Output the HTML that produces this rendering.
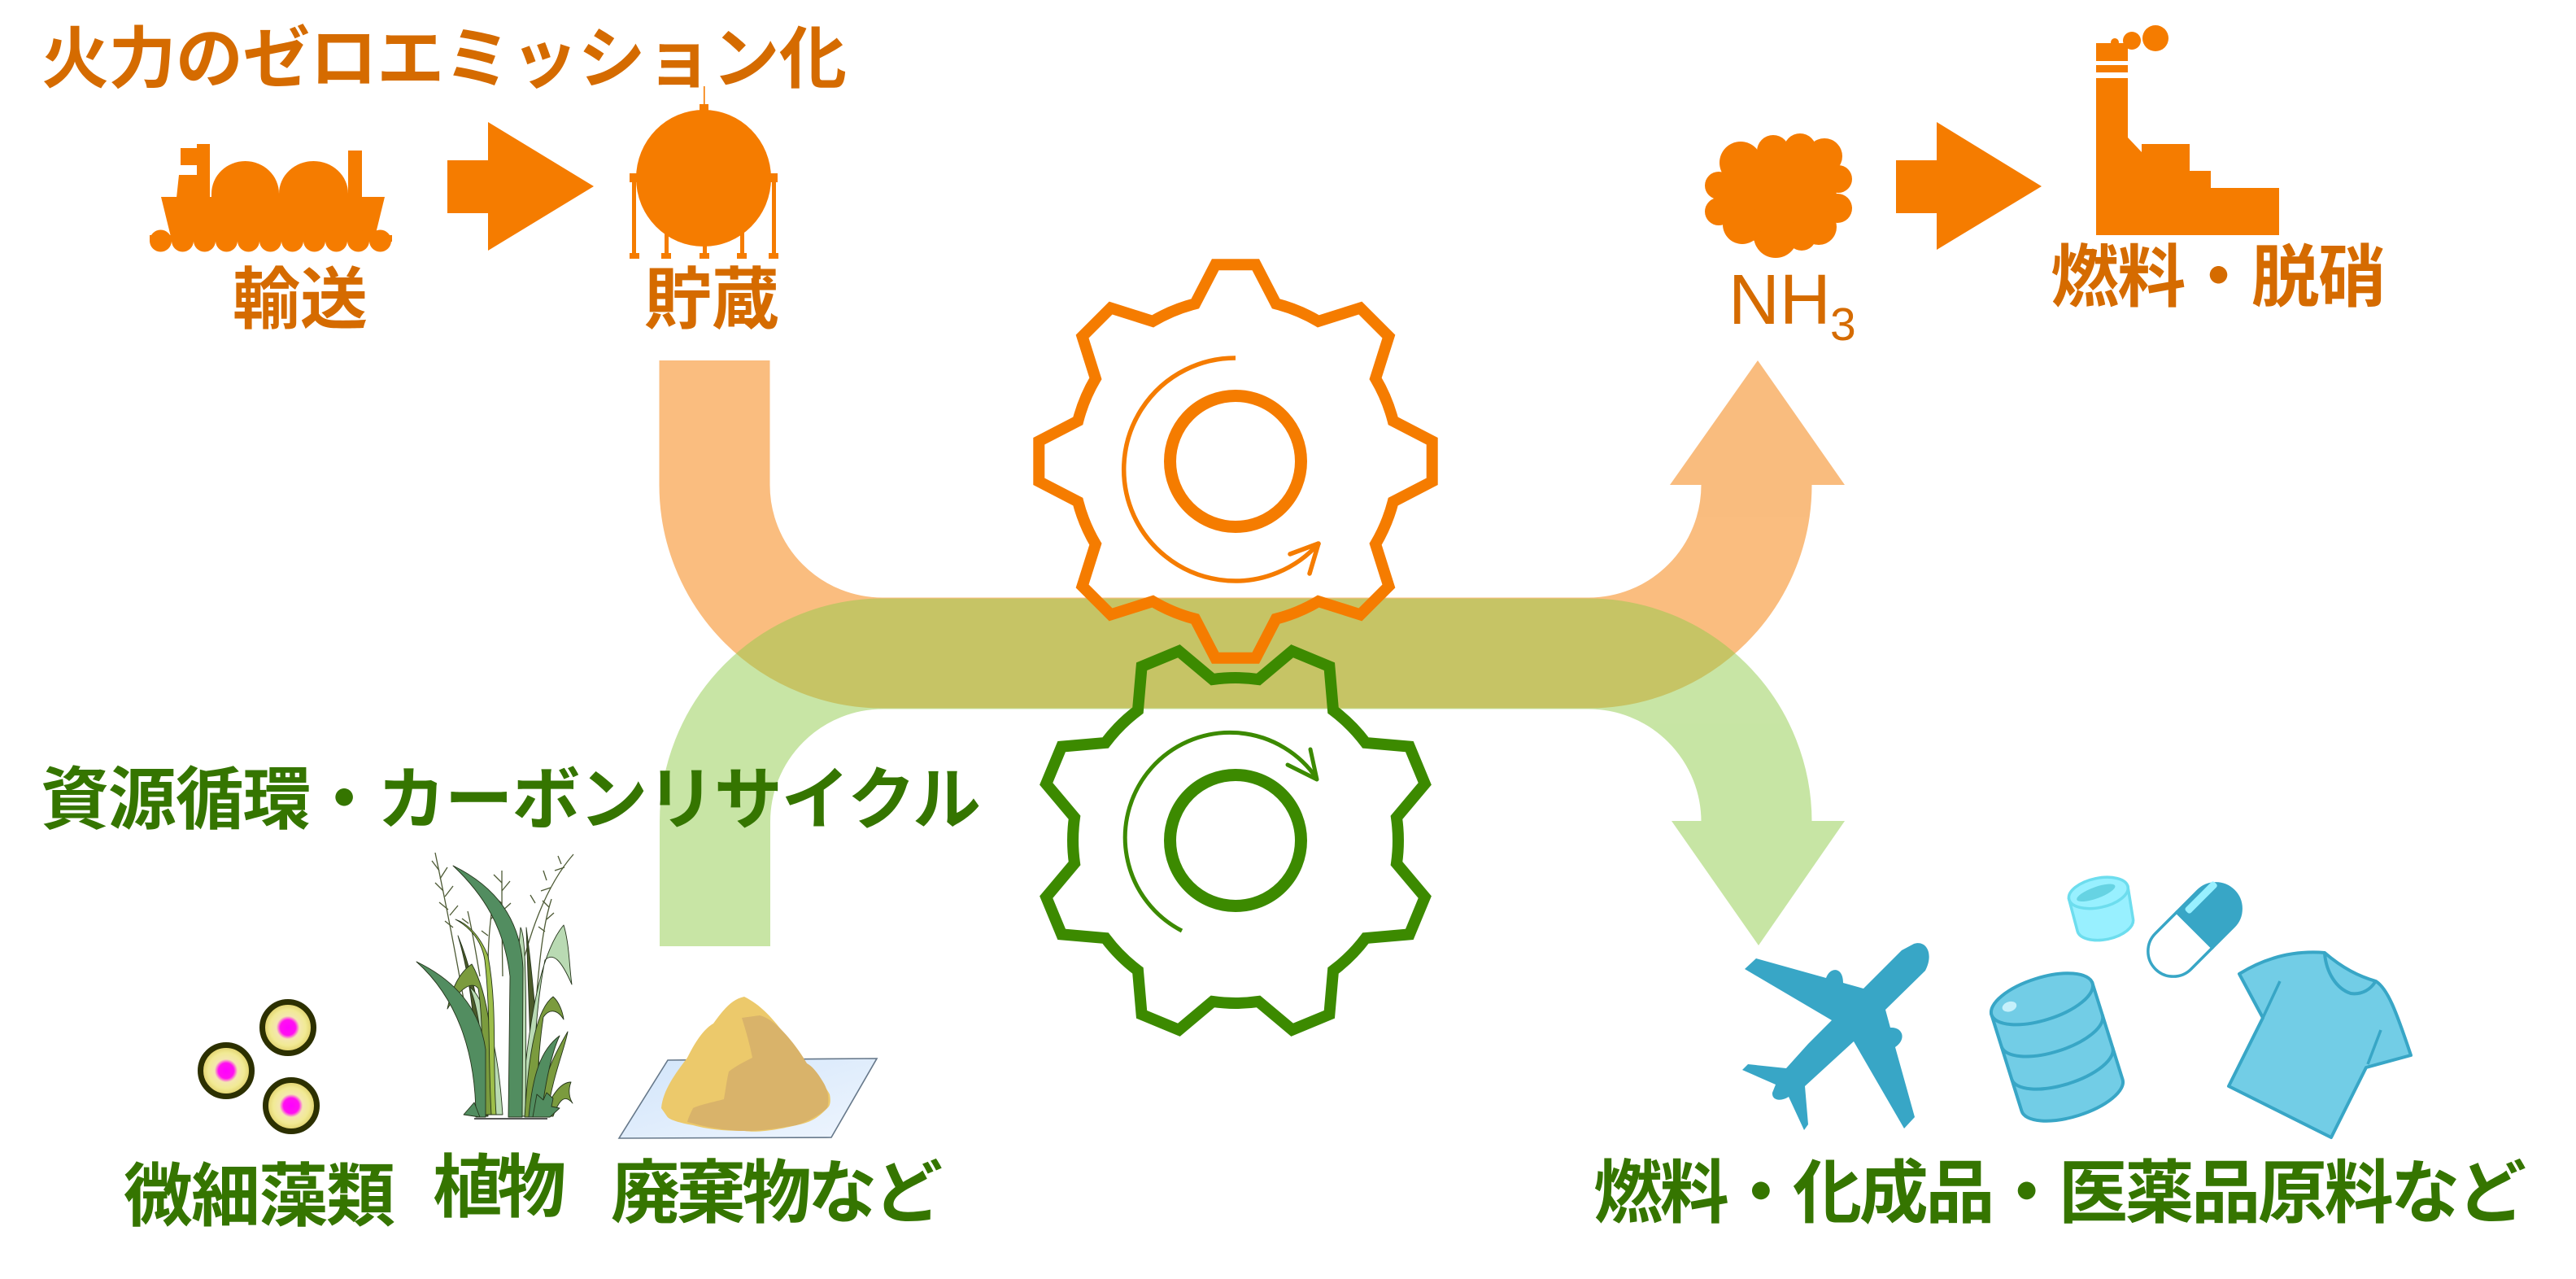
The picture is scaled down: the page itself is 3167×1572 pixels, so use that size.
<!DOCTYPE html>
<html><head><meta charset="utf-8">
<style>
html,body{margin:0;padding:0;background:#fff;}
svg{display:block;}
text{font-family:"Liberation Sans","Noto Sans CJK JP",sans-serif;font-weight:700;}
</style></head>
<body>
<svg width="3167" height="1572" viewBox="0 0 3167 1572" xmlns="http://www.w3.org/2000/svg">
<defs>
  <radialGradient id="alg" cx="50%" cy="50%" r="50%">
    <stop offset="0" stop-color="#ff00ff"/>
    <stop offset="0.3" stop-color="#ff10f0"/>
    <stop offset="0.45" stop-color="#f4e6b0"/>
    <stop offset="0.7" stop-color="#f1ea94"/>
    <stop offset="1" stop-color="#dccb62"/>
  </radialGradient>
  <linearGradient id="sheet" x1="0" y1="0" x2="1" y2="1">
    <stop offset="0" stop-color="#d2e5fa"/>
    <stop offset="1" stop-color="#eef5fe"/>
  </linearGradient>
  <path id="gear" d="M -49.7 -193.7 L -24.8 -241.7 L 24.8 -241.7 L 49.7 -193.7 A 200 200 0 0 1 101.8 -172.1 L 153.4 -188.4 L 188.4 -153.4 L 172.1 -101.8 A 200 200 0 0 1 193.7 -49.7 L 241.7 -24.8 L 241.7 24.8 L 193.7 49.7 A 200 200 0 0 1 172.1 101.8 L 188.4 153.4 L 153.4 188.4 L 101.8 172.1 A 200 200 0 0 1 49.7 193.7 L 24.8 241.7 L -24.8 241.7 L -49.7 193.7 A 200 200 0 0 1 -101.8 172.1 L -153.4 188.4 L -188.4 153.4 L -172.1 101.8 A 200 200 0 0 1 -193.7 49.7 L -241.7 24.8 L -241.7 -24.8 L -193.7 -49.7 A 200 200 0 0 1 -172.1 -101.8 L -188.4 -153.4 L -153.4 -188.4 L -101.8 -172.1 A 200 200 0 0 1 -49.7 -193.7 Z"/>
</defs>
<rect width="3167" height="1572" fill="#fff"/>

<!-- Orange band -->
<g opacity="0.5">
  <path d="M 878.5 443 V 596 A 206.5 206.5 0 0 0 1085 802.5 H 1953 A 206.5 206.5 0 0 0 2159.5 596" fill="none" stroke="#F57C00" stroke-width="136"/>
  <polygon points="2053,596 2161,443 2268,596" fill="#F57C00"/>
</g>
<!-- Green band -->
<g opacity="0.5">
  <path d="M 879 1163 V 1010 A 206.5 206.5 0 0 1 1085.5 803.5 H 1953 A 206.5 206.5 0 0 1 2159.5 1010" fill="none" stroke="#91CC4B" stroke-width="136"/>
  <polygon points="2055,1009 2162,1162 2268,1009" fill="#91CC4B"/>
</g>

<!-- Gears -->
<g transform="translate(1519 567)" fill="none" stroke="#F57C00">
  <use href="#gear" stroke-width="14" stroke-linejoin="miter"/>
  <circle cx="0" cy="0" r="80.5" stroke-width="15"/>
</g>
<path d="M 1519 440 A 137 137 0 1 0 1622 667" fill="none" stroke="#F57C00" stroke-width="5.5"/>
<path d="M 1586 681 L 1621 668 L 1610 705" fill="none" stroke="#F57C00" stroke-width="5.5" stroke-linecap="round" stroke-linejoin="round"/>

<g transform="translate(1519 1033) rotate(22.5)" fill="none" stroke="#3C8A00">
  <use href="#gear" stroke-width="14"/>
</g>
<circle cx="1519" cy="1033" r="80.5" fill="none" stroke="#3C8A00" stroke-width="15"/>
<path d="M 1453 1144 A 129 129 0 1 1 1619 957" fill="none" stroke="#3C8A00" stroke-width="5"/>
<path d="M 1583 940 L 1619 958 L 1611 921" fill="none" stroke="#3C8A00" stroke-width="5" stroke-linecap="round" stroke-linejoin="round"/>

<!-- Orange texts -->
<g fill="#D56B00">
  <text x="51" y="101" font-size="83" textLength="990">火力のゼロエミッション化</text>
  <text x="286" y="397" font-size="83" textLength="166">輸送</text>
  <text x="792" y="397" font-size="83" textLength="166">貯蔵</text>
  <text x="2521" y="370" font-size="84" textLength="413">燃料・脱硝</text>
  <text x="2125" y="398" font-size="87" style="font-weight:400">NH</text>
  <text x="2250" y="418" font-size="57" style="font-weight:400">3</text>
</g>

<!-- Ship -->
<g fill="#F57C00">
  <polygon points="198,242 473,242 461,291 210,291"/>
  <rect x="184" y="289" width="298" height="8"/>
  <g>
    <circle cx="197.5" cy="296" r="13.5"/><circle cx="224.5" cy="296" r="13.5"/><circle cx="251.5" cy="296" r="13.5"/>
    <circle cx="278.5" cy="296" r="13.5"/><circle cx="305.5" cy="296" r="13.5"/><circle cx="332.5" cy="296" r="13.5"/>
    <circle cx="359.5" cy="296" r="13.5"/><circle cx="386.5" cy="296" r="13.5"/><circle cx="413.5" cy="296" r="13.5"/>
    <circle cx="440.5" cy="296" r="13.5"/><circle cx="467.5" cy="296" r="13.5"/>
  </g>
  <polygon points="220,215 243,215 243,243 217,243"/>
  <rect x="222" y="182" width="21" height="21"/>
  <rect x="242" y="177" width="16" height="66"/>
  <path d="M 260 243 V 238 A 41.5 40 0 0 1 343 238 V 243 Z"/>
  <path d="M 343 243 V 238 A 42.5 40 0 0 1 428 238 V 243 Z"/>
  <rect x="428" y="185" width="17" height="58"/>
</g>

<!-- Arrow 1 -->
<polygon points="550,197 600,197 600,150 730,229 600,308 600,262 550,262" fill="#F57C00"/>

<!-- Tank -->
<g fill="#F57C00">
  <rect x="865" y="106" width="1.6" height="24"/>
  <rect x="860" y="128" width="11" height="9"/>
  <ellipse cx="865" cy="219" rx="83" ry="84"/>
  <rect x="774" y="213" width="12" height="11"/>
  <rect x="944" y="213" width="12" height="11"/>
  <rect x="777" y="213" width="5" height="100"/>
  <rect x="949" y="213" width="5" height="100"/>
  <rect x="817" y="280" width="5" height="33"/>
  <rect x="910" y="280" width="5" height="33"/>
  <rect x="864" y="298" width="5" height="15"/>
  <rect x="774" y="311" width="12" height="7"/>
  <rect x="813" y="311" width="12" height="7"/>
  <rect x="860" y="311" width="12" height="7"/>
  <rect x="906" y="311" width="12" height="7"/>
  <rect x="945" y="311" width="12" height="7"/>
</g>

<!-- Cloud NH3 -->
<g fill="#F57C00">
  <ellipse cx="2186" cy="243" rx="72" ry="58"/>
  <circle cx="2140" cy="200" r="26"/>
  <circle cx="2180" cy="186" r="20"/>
  <circle cx="2213" cy="184" r="20"/>
  <circle cx="2243" cy="192" r="22"/>
  <circle cx="2260" cy="220" r="17"/>
  <circle cx="2259" cy="256" r="18"/>
  <circle cx="2236" cy="279" r="22"/>
  <circle cx="2183" cy="290" r="27"/>
  <circle cx="2142" cy="276" r="24"/>
  <circle cx="2113" cy="228" r="17"/>
  <circle cx="2113" cy="260" r="17"/>
  <circle cx="2215" cy="290" r="18"/>
</g>

<!-- Arrow 2 -->
<polygon points="2331,197 2381,197 2381,150 2510,229 2381,307 2381,262 2331,262" fill="#F57C00"/>

<!-- Factory -->
<g fill="#F57C00">
  <path d="M2577 53 H2616 V169 L2633 187 V177 H2692 V210 H2718 V231 H2802 V289 H2577 Z"/>
  <circle cx="2650" cy="47" r="16"/>
  <circle cx="2621" cy="50" r="11"/>
  <circle cx="2600" cy="52" r="5"/>
</g>
<rect x="2577" y="75" width="39" height="5" fill="#fff"/>
<rect x="2577" y="89" width="39" height="7" fill="#fff"/>

<!-- Green texts -->
<g fill="#357500">
  <text x="50" y="1012" font-size="84" textLength="1156">資源循環・カーボンリサイクル</text>
  <text x="152" y="1500" font-size="85" textLength="334">微細藻類</text>
  <text x="532" y="1489" font-size="85" textLength="164">植物</text>
  <text x="751" y="1496" font-size="85" textLength="408">廃棄物など</text>
  <text x="1959" y="1496" font-size="85" textLength="1147">燃料・化成品・医薬品原料など</text>
</g>

<!-- Algae -->
<g stroke="#2c3000" stroke-width="7" fill="url(#alg)">
  <circle cx="354" cy="1263" r="31.5"/>
  <circle cx="278" cy="1316" r="31.5"/>
  <circle cx="358" cy="1359" r="31.5"/>
</g>

<!-- Plant -->
<g>
  <g fill="none" stroke="#4d5a35" stroke-width="1.3">
    <path d="M572 1240 C 560 1170, 548 1110, 535 1048"/>
    <path d="M540 1070 l-9 -12 M541 1080 l9 -14 M545 1095 l-10 -10 M547 1102 l10 -13 M551 1118 l-11 -9 M553 1125 l10 -12 M557 1140 l-10 -8"/>
    <path d="M618 1200 C 617 1150, 617 1110, 617 1070"/>
    <path d="M617 1085 l-10 -10 M617 1095 l10 -12 M617 1110 l-11 -8 M617 1120 l11 -10"/>
    <path d="M637 1207 C 650 1150, 670 1090, 705 1050"/>
    <path d="M690 1062 l-4 -10 M682 1070 l12 -4 M672 1082 l-4 -12 M665 1095 l12 -4 M658 1110 l-6 -10"/>
    <path d="M660 1220 C 665 1160, 670 1130, 678 1105"/>
    <path d="M675 1115 l-8 -8 M672 1130 l9 -8 M670 1145 l-8 -6"/>
    <path d="M590 1200 C 585 1170, 580 1140, 575 1120 M600 1190 C 600 1160, 602 1140, 605 1115"/>
    <path d="M576 1135 l-8 -6 M603 1130 l8 -8 M600 1150 l-8 -6"/>
  </g>
  <g stroke="#24341a" stroke-width="0.9" stroke-linejoin="round">
    <path d="M 600 1372 C 598 1290, 588 1210, 563 1150 C 578 1200, 586 1260, 588 1372 Z" fill="#4b5a2a"/>
    <path d="M 655 1372 C 652 1290, 650 1220, 647 1140 C 655 1200, 662 1280, 666 1372 Z" fill="#4b5a2a"/>
    <path d="M 598 1370 C 595 1300, 590 1240, 577 1213 C 595 1225, 612 1280, 618 1370 Z" fill="#b9dab3"/>
    <path d="M 640 1370 C 650 1250, 665 1170, 693 1137 C 700 1160, 700 1190, 703 1210 C 690 1180, 680 1170, 670 1180 C 660 1230, 655 1300, 655 1370 Z" fill="#b9dab3"/>
    <path d="M 627 1372 C 630 1300, 632 1220, 640 1140 C 645 1150, 648 1180, 646 1372 Z" fill="#b9dab3"/>
    <path d="M 605 1370 C 610 1290, 600 1220, 580 1185 C 565 1195, 555 1215, 550 1240 C 565 1215, 580 1205, 588 1215 C 595 1260, 592 1320, 592 1370 Z" fill="#7b9b3e"/>
    <path d="M 645 1373 C 650 1290, 660 1240, 680 1225 C 688 1232, 692 1245, 693 1253 C 685 1240, 675 1240, 668 1250 C 662 1290, 660 1330, 660 1373 Z" fill="#7b9b3e"/>
    <path d="M 660 1373 C 668 1320, 685 1290, 698 1268 C 694 1290, 680 1320, 672 1373 Z" fill="#7b9b3e"/>
    <path d="M 668 1372 C 680 1340, 692 1330, 702 1330 C 698 1340, 700 1350, 704 1356 C 695 1345, 688 1350, 680 1372 Z" fill="#7b9b3e"/>
    <path d="M 585 1373 C 585 1290, 560 1225, 512 1182 C 560 1205, 590 1240, 597 1290 L 597 1373 Z" fill="#528d60"/>
    <path d="M 625 1373 L 627 1200 C 620 1140, 595 1100, 557 1064 C 610 1090, 640 1130, 643 1190 L 642 1373 Z" fill="#528d60"/>
    <path d="M 650 1373 C 655 1320, 665 1290, 688 1273 C 680 1290, 672 1320, 665 1373 Z" fill="#528d60"/>
    <path d="M 655 1373 L 660 1345 L 668 1352 L 672 1343 L 680 1350 L 678 1360 L 688 1362 L 676 1373 Z" fill="#528d60"/>
    <path d="M 570 1370 L 583 1355 L 590 1373 Z" fill="#528d60"/>
    <path d="M 610 1370 C 605 1300, 612 1240, 600 1175 C 590 1150, 575 1135, 560 1130 C 578 1140, 592 1155, 596 1180 C 603 1240, 600 1300, 604 1370 Z" fill="#9dbe4a"/>
  </g>
  <line x1="583" y1="1375" x2="673" y2="1375" stroke="#222" stroke-width="1.5"/>
</g>

<!-- Sand pile -->
<polygon points="761,1399 821,1303 1078,1301 1022,1398" fill="url(#sheet)" stroke="#66788a" stroke-width="1.6"/>
<path d="M813 1362 C 815 1340, 830 1320, 845 1300 C 855 1280, 865 1265, 877 1258 C 890 1240, 900 1228, 915 1225 C 935 1235, 948 1250, 960 1265 C 975 1285, 985 1300, 992 1307 C 1005 1325, 1015 1335, 1020 1345 C 1022 1355, 1020 1360, 1017 1362 C 1005 1375, 995 1380, 979 1383 C 950 1390, 930 1392, 915 1390 C 890 1390, 870 1388, 852 1383 C 835 1380, 822 1376, 820 1372 Z" fill="#ecc96b"/>
<path d="M912 1251 C 918 1270, 922 1285, 925 1300 C 915 1305, 905 1310, 896 1317 C 893 1330, 892 1340, 890 1351 C 875 1355, 860 1358, 852 1362 C 848 1370, 846 1375, 845 1379 C 870 1386, 895 1390, 915 1390 C 940 1390, 960 1386, 979 1383 C 995 1378, 1008 1370, 1017 1362 C 1020 1350, 1018 1340, 1012 1330 C 1005 1318, 998 1310, 992 1307 C 982 1290, 970 1275, 960 1265 C 950 1255, 942 1250, 934 1248 Z" fill="#d9b36a"/>

<!-- Airplane -->
<path d="M 2353 1160 C 2368 1155, 2378 1172, 2367 1193 L 2318 1241 L 2324 1263 C 2340 1262, 2344 1278, 2330 1287 L 2354 1373 L 2341 1387 L 2279 1280 L 2243 1313 L 2219 1335 L 2223 1382 L 2218 1389 L 2199 1348 C 2190 1354, 2178 1353, 2179 1343 L 2183 1333 L 2142 1315 L 2149 1308 L 2196 1313 L 2223 1283 L 2252 1254 L 2145 1191 L 2159 1178 L 2245 1202 C 2250 1188, 2266 1188, 2266 1208 L 2291 1215 L 2338 1168 Z" fill="#38A6C6"/>

<!-- Drum -->
<g transform="translate(2529 1287) rotate(-17.4)" stroke="#38A6C6" stroke-width="4" fill="#72CDE6">
  <path d="M -65 -62 L -65 62 A 65 26 0 0 0 65 62 L 65 -62 Z"/>
  <ellipse cx="0" cy="-62" rx="65" ry="26"/>
  <path d="M -65 -21 A 65 26 0 0 0 65 -21 M -65 21 A 65 26 0 0 0 65 21" fill="none"/>
  <ellipse cx="-41" cy="-65" rx="9" ry="6" fill="#c5f0fb" stroke="none"/>
</g>

<!-- Cup -->
<g transform="translate(2584 1117) rotate(-12)" stroke="#6DDDEE" stroke-width="3.5" fill="#98F0FF">
  <path d="M -37 -20 L -35 20 A 35 18 0 0 0 35 20 L 37 -20 Z"/>
  <ellipse cx="0" cy="-20" rx="37" ry="18"/>
  <ellipse cx="0" cy="-21" rx="25" ry="7" fill="#66D3E3" stroke="none" transform="rotate(-8)"/>
</g>

<!-- Capsule -->
<g transform="translate(2698 1143) rotate(-45)">
  <path d="M 0 -31 H -37 A 31 31 0 0 0 -37 31 H 0 Z" fill="#fff" stroke="#38A6C6" stroke-width="3.5"/>
  <path d="M 0 -31 H 37 A 31 31 0 0 1 37 31 H 0 Z" fill="#38A6C6" stroke="#38A6C6" stroke-width="3.5"/>
  <rect x="9" y="-27" width="50" height="9" rx="3" fill="#98F0FF"/>
</g>

<!-- T-shirt -->
<path d="M 2753 1197 C 2785 1177, 2820 1168, 2858 1171 C 2880 1190, 2900 1200, 2921 1206 C 2935 1215, 2945 1240, 2964 1297 L 2909 1312 L 2866 1398 L 2740 1335 L 2782 1251 Z" fill="#72CDE6" stroke="#38A6C6" stroke-width="4" stroke-linejoin="round"/>
<path d="M 2858 1172 C 2860 1195, 2872 1215, 2890 1221 C 2905 1223, 2915 1215, 2920 1207" fill="none" stroke="#38A6C6" stroke-width="4"/>
<path d="M 2803 1206 L 2782 1251 M 2927 1266 L 2911 1308" fill="none" stroke="#38A6C6" stroke-width="3.5"/>

</svg>
</body></html>
